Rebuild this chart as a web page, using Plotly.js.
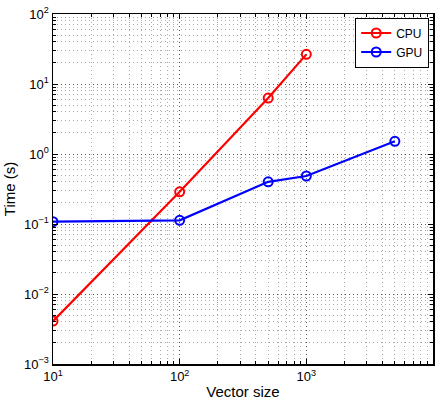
<!DOCTYPE html>
<html>
<head>
<meta charset="utf-8">
<script src="https://cdn.plot.ly/plotly-3.0.1.min.js"></script>
<style>html,body{margin:0;padding:0;background:#fff;}#chart{width:441px;height:400px;}</style>
</head>
<body>
<div id="chart"></div>
<script>
const cpuSize = [10, 100, 500, 1000];
const cpuTime = [0.0041, 0.288, 6.3, 26.5];
const gpuSize = [10, 100, 500, 1000, 5000];
const gpuTime = [0.108, 0.113, 0.40, 0.485, 1.52];
const xTickVals = [10, 100, 1000, 10000];
const xTickText = ['10<sup>1</sup>', '10<sup>2</sup>', '10<sup>3</sup>', '10<sup>4</sup>'];
const yTickVals = [0.001, 0.01, 0.1, 1, 10, 100];
const yTickText = ['10<sup>−3</sup>', '10<sup>−2</sup>', '10<sup>−1</sup>', '10<sup>0</sup>', '10<sup>1</sup>', '10<sup>2</sup>'];

const mk = (x, y, name, color) => ({
  x: x, y: y, name: name, type: 'scatter', mode: 'lines+markers',
  line: {color: color, width: 2.2},
  marker: {symbol: 'circle-open', size: 9, color: color, line: {width: 2, color: color}}
});

const axisCommon = {
  type: 'log',
  tickmode: 'array',
  ticks: 'inside',
  ticklen: 5,
  tickcolor: '#000',
  tickwidth: 1,
  showline: true,
  linecolor: '#000',
  linewidth: 1.5,
  mirror: 'ticks',
  showgrid: true,
  gridcolor: '#555',
  griddash: '1px,3px',
  gridwidth: 1,
  zeroline: false,
  tickfont: {family: 'Liberation Sans, Arial, sans-serif', size: 13, color: '#000'},
  minor: {dtick: 'D1', ticks: 'inside', ticklen: 3, tickcolor: '#000', showgrid: true, gridcolor: '#aaa', griddash: '1px,3px', gridwidth: 1}
};

const layout = {
  width: 441, height: 400,
  margin: {l: 53, r: 8, t: 14, b: 36},
  paper_bgcolor: '#fff', plot_bgcolor: '#fff',
  font: {family: 'Liberation Sans, Arial, sans-serif', color: '#000'},
  showlegend: true,
  legend: {x: 0.99, y: 0.99, xanchor: 'right', yanchor: 'top', bordercolor: '#000', borderwidth: 1, bgcolor: '#fff', font: {size: 12}, tracegroupgap: 0},
  xaxis: Object.assign({}, axisCommon, {range: [1, 4], tickvals: xTickVals, ticktext: xTickText, title: {text: 'Vector size', font: {size: 15}, standoff: 8}}),
  yaxis: Object.assign({}, axisCommon, {range: [-3, 2], tickvals: yTickVals, ticktext: yTickText, title: {text: 'Time (s)', font: {size: 15}, standoff: 5}})
};

Plotly.newPlot('chart', [mk(cpuSize, cpuTime, 'CPU', '#ff0000'), mk(gpuSize, gpuTime, 'GPU', '#0000ff')], layout, {displayModeBar: false, staticPlot: true});
</script>
</body>
</html>
